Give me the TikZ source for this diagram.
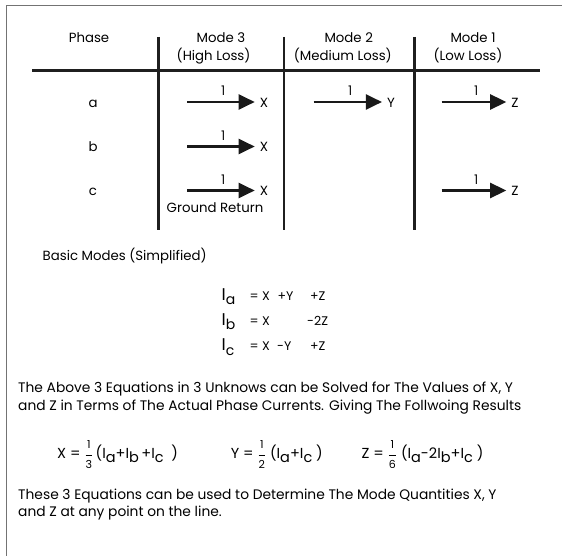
\documentclass[tikz,border=0pt]{standalone}
\usepackage{fontspec}
\setmainfont{Poppins}
\usepackage{tikz}
\usetikzlibrary{arrows.meta,positioning}

% phase current with lowered subscript
\newcommand{\Isub}[1]{I\raisebox{-4.5pt}{#1}}
\newcommand{\Ibig}[1]{{\fontsize{17}{17}\selectfont I}\raisebox{-4.5pt}{\fontsize{14}{14}\selectfont #1}}
\newcommand{\smallfrac}[2]{$\displaystyle\frac{\mbox{\fontsize{11}{11}\selectfont #1}}{\mbox{\fontsize{11}{11}\selectfont #2}}$}

\begin{document}
\begin{tikzpicture}[
  x=1pt, y=-1pt,
  font=\fontsize{13.3}{16}\selectfont,
  frame/.style={black!55, line width=0.9pt},
  headrule/.style={line width=3.4pt, black!88},
  colrule/.style={line width=2.7pt, black!88},
  modearrow/.style={line width=2.6pt, black!90, -{Triangle[length=16pt, width=15pt]}, shorten >=5pt},
  cell/.style={anchor=base, inner sep=0pt},
  unit/.style={midway, above=5pt, inner sep=0pt},
  note/.style={anchor=base west, inner sep=0pt, align=left, font=\fontsize{13.8}{17.5}\selectfont},
  eqn/.style={anchor=base west, inner sep=0pt, font=\fontsize{12.5}{14}\selectfont},
  result/.style={anchor=base west, inner sep=0pt, font=\fontsize{14.5}{15}\selectfont}
]
\useasboundingbox (0, 0) rectangle (565, 556);

% Khung ngoài (chỉ thấy cạnh trái và cạnh trên)
\draw[frame] (6.5, 556) -- (6.5, 5) -- (562, 5);

% Tiêu đề bảng
\node[cell] (phase) at (89, 42.7) {Phase};
\node[cell] (mode3) at (221, 42.7) {Mode 3};
\node[cell] (loss3) at (213.6, 61) {(High Loss)};
\node[cell] (mode2) at (348.7, 42.7) {Mode 2};
\node[cell] (loss2) at (342.8, 61) {(Medium Loss)};
\node[cell] (mode1) at (473, 42.7) {Mode 1};
\node[cell] (loss1) at (468, 61) {(Low Loss)};

% Đường kẻ bảng
\draw[headrule] (32, 70.7) -- (540, 70.7);
\draw[colrule] (158.5, 37) -- (158.5, 230);
\draw[colrule] (284, 37) -- (284, 230);
\draw[colrule] (414.5, 37) -- (414.5, 230);

% Các pha
\node[cell] (pa) at (93, 108) {a};
\node[cell] (pb) at (93, 152) {b};
\node[cell] (pc) at (93, 196) {c};

% Mode 3: cả ba pha đi cùng chiều, trở về qua đất
\coordinate (ta3) at (187, 102);
\node[cell] (xa) at (264, 108) {X};
\draw[modearrow] (ta3) -- (ta3 -| xa.west) node[unit] {1};
\coordinate (tb3) at (187, 146.5);
\node[cell] (xb) at (264, 152) {X};
\draw[modearrow] (tb3) -- (tb3 -| xb.west) node[unit] {1};
\coordinate (tc3) at (187, 190.5);
\node[cell] (xc) at (264, 196) {X};
\draw[modearrow] (tc3) -- (tc3 -| xc.west) node[unit] {1};
\node[cell] (ground) at (215, 212.7) {Ground Return};

% Mode 2
\coordinate (ta2) at (313.5, 102);
\node[cell] (ya) at (391, 108) {Y};
\draw[modearrow] (ta2) -- (ta2 -| ya.west) node[unit] {1};

% Mode 1
\coordinate (ta1) at (441.5, 102);
\node[cell] (za) at (515, 108) {Z};
\draw[modearrow] (ta1) -- (ta1 -| za.west) node[unit] {1};
\coordinate (tc1) at (441.5, 190.5);
\node[cell] (zc) at (515, 196) {Z};
\draw[modearrow] (tc1) -- (tc1 -| zc.west) node[unit] {1};

\node[note, font=\fontsize{13.3}{16}\selectfont] (basic) at (42.5, 261) {Basic Modes (Simplified)};

% Ba phương trình pha
\node[eqn] (ia) at (221.5, 300) {\Ibig{a}};
\node[eqn] (ia1) at (249.5, 300) {= X};
\node[eqn] (ia2) at (277.5, 300) {+Y};
\node[eqn] (ia3) at (310, 300) {+Z};
\node[eqn] (ib) at (221.5, 325) {\Ibig{b}};
\node[eqn] (ib1) at (249.5, 325) {= X};
\node[eqn] (ib3) at (307, 325) {-2Z};
\node[eqn] (ic) at (221.5, 350.7) {\Ibig{c}};
\node[eqn] (ic1) at (249.5, 350.7) {= X};
\node[eqn] (ic2) at (277, 350.7) {-Y};
\node[eqn] (ic3) at (310, 350.7) {+Z};

\node[note] (solve) at (18, 410) {The Above 3 Equations in 3 Unknows can be Solved for The Values of X, Y\\and Z in Terms of The Actual Phase Currents. Giving The Follwoing Results};

% Kết quả
\node[result] (xsol) at (57, 458.3) {X = \smallfrac{1}{3}\,(\Isub{a}+\Isub{b}\,+\Isub{c}\ \ )};
\node[result] (ysol) at (230.6, 458.3) {Y = \smallfrac{1}{2}\ (\Isub{a}+\Isub{c}\ )};
\node[result] (zsol) at (361.5, 458.3) {Z = \smallfrac{1}{6}\ (\Isub{a}-2\Isub{b}+\Isub{c}\ )};

\node[note] (usage) at (18, 516.7) {These 3 Equations can be used to Determine The Mode Quantities X, Y\\and Z at any point on the line.};

\end{tikzpicture}
\end{document}
